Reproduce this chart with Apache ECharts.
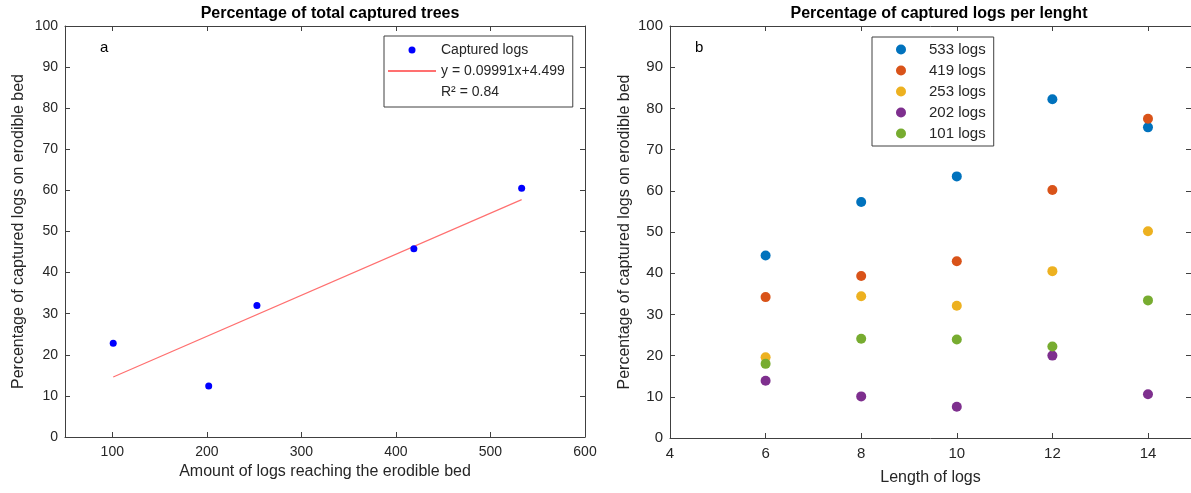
<!DOCTYPE html>
<html lang="en">
<head>
    <meta charset="UTF-8">
    <title>Captured logs</title>
    <script src="https://cdn.jsdelivr.net/npm/echarts@6/dist/echarts.min.js"></script>
    <style>
        body { margin: 0; background: #fff; }
    </style>
</head>
<body>

<div id="main" style="width: 1191px;height:493px;"></div>
<script type="text/javascript">

    // panel a
    var logsReaching = [101, 202, 253, 419, 533];
    var capturedPct = [22.8, 12.4, 32.0, 45.8, 60.5];
    var fitX = [101, 533];
    var fitY = [14.59, 57.75];
    var ticksA = [100, 200, 300, 400, 500, 600];

    // panel b
    var lengths = [6, 8, 10, 12, 14];
    var logs533 = [44.3, 57.3, 63.5, 82.2, 75.4];
    var logs419 = [34.2, 39.3, 42.9, 60.2, 77.5];
    var logs253 = [19.6, 34.4, 32.1, 40.5, 50.2];
    var logs202 = [13.9, 10.1, 7.6, 20.0, 10.6];
    var logs101 = [18.0, 24.1, 23.9, 22.2, 33.4];
    var namesB = ['533 logs', '419 logs', '253 logs', '202 logs', '101 logs'];
    var colorsB = ['#0072BD', '#D95319', '#EDB120', '#7E2F8E', '#77AC30'];
    var ticksB = [4, 6, 8, 10, 12, 14];

    var font = "'Liberation Sans', Arial, sans-serif";
    var txt = '#262626';
    var lineCol = '#404040';

    function pairs(xs, ys) {
        return xs.map(function (x, i) { return [x, ys[i]]; });
    }

    // main axis + mirrored "box" axis with inward ticks
    function xAx(grid, min, max, ticks, name, gap, top, fs) {
        return {
            type: 'value', gridIndex: grid, min: min, max: max,
            position: top ? 'top' : 'bottom',
            name: top ? '' : name, nameLocation: 'middle', nameGap: gap,
            nameTextStyle: {fontFamily: font, fontSize: 16, color: txt},
            axisLine: {show: true, onZero: false, lineStyle: {color: lineCol}},
            axisTick: {show: true, inside: true, length: 5, customValues: ticks, lineStyle: {color: lineCol}},
            axisLabel: {show: !top, customValues: ticks, margin: 8, fontFamily: font, fontSize: fs, color: txt},
            splitLine: {show: false}
        };
    }

    function yAx(grid, name, gap, right, fs) {
        return {
            type: 'value', gridIndex: grid, min: 0, max: 100, interval: 10,
            position: right ? 'right' : 'left',
            name: right ? '' : name, nameLocation: 'middle', nameGap: gap,
            nameTextStyle: {fontFamily: font, fontSize: 16, color: txt},
            axisLine: {show: true, onZero: false, lineStyle: {color: lineCol}},
            axisTick: {show: true, inside: true, length: 5, lineStyle: {color: lineCol}},
            axisLabel: {show: !right, margin: 7, fontFamily: font, fontSize: fs, color: txt},
            splitLine: {show: false}
        };
    }

    var yName = 'Percentage of captured logs on erodible bed';

    var seriesB = [logs533, logs419, logs253, logs202, logs101].map(function (vals, i) {
        return {
            name: namesB[i], type: 'scatter', xAxisIndex: 2, yAxisIndex: 2,
            symbolSize: 10, itemStyle: {color: colorsB[i], opacity: 1},
            data: pairs(lengths, vals)
        };
    });

    var option = {
        animation: false,
        textStyle: {fontFamily: font},
        title: [
            {text: 'Percentage of total captured trees', left: 325, top: 1, textAlign: 'center',
                textStyle: {fontSize: 16, fontWeight: 'bold', color: '#000', fontFamily: font}},
            {text: 'Percentage of captured logs per lenght', left: 934, top: 1, textAlign: 'center',
                textStyle: {fontSize: 16, fontWeight: 'bold', color: '#000', fontFamily: font}}
        ],
        grid: [
            {left: 65, top: 26, width: 520, height: 411},
            {left: 670, top: 26, width: 521, height: 412}
        ],
        legend: [
            {
                data: [
                    'Captured logs',
                    {name: 'y = 0.09991x+4.499', itemStyle: {opacity: 0}},
                    {name: 'R\u00b2 = 0.84', itemStyle: {color: 'rgba(0,0,0,0)'}}
                ],
                orient: 'vertical', left: 384, top: 36, padding: [7, 8, 8, 3],
                itemWidth: 48, itemHeight: 7, itemGap: 7, selectedMode: false,
                borderColor: lineCol, borderWidth: 1, borderRadius: 0, backgroundColor: '#fff',
                textStyle: {fontSize: 14, color: txt, fontFamily: font}
            },
            {
                data: namesB,
                orient: 'vertical', left: 872, top: 37, padding: [5, 8, 5, 24],
                itemWidth: 46, itemHeight: 10, itemGap: 6, selectedMode: false,
                borderColor: lineCol, borderWidth: 1, borderRadius: 0, backgroundColor: '#fff',
                textStyle: {fontSize: 15, color: txt, fontFamily: font}
            }
        ],
        xAxis: [
            xAx(0, 50, 600, ticksA, 'Amount of logs reaching the erodible bed', 26, false, 14),
            xAx(0, 50, 600, ticksA, '', 0, true, 14),
            xAx(1, 4, 14.9, ticksB, 'Length of logs', 32, false, 15),
            xAx(1, 4, 14.9, ticksB, '', 0, true, 15)
        ],
        yAxis: [
            yAx(0, yName, 38, false, 14),
            yAx(0, '', 0, true, 14),
            yAx(1, yName, 37, false, 15),
            yAx(1, '', 0, true, 15)
        ],
        graphic: [
            {type: 'text', left: 100, top: 40, style: {text: 'a', fontSize: 15, fill: '#000', fontFamily: font}},
            {type: 'text', left: 695, top: 40, style: {text: 'b', fontSize: 15, fill: '#000', fontFamily: font}}
        ],
        series: [
            {
                name: 'Captured logs', type: 'scatter', xAxisIndex: 0, yAxisIndex: 0,
                symbolSize: 7, itemStyle: {color: '#0000FF', opacity: 1},
                data: pairs(logsReaching, capturedPct), z: 3
            },
            {
                name: 'y = 0.09991x+4.499', type: 'line', xAxisIndex: 0, yAxisIndex: 0,
                symbol: 'none', lineStyle: {color: '#FF7070', width: 1.2},
                data: pairs(fitX, fitY), z: 2
            },
            {
                name: 'R\u00b2 = 0.84', type: 'scatter', xAxisIndex: 0, yAxisIndex: 0,
                itemStyle: {color: 'rgba(0,0,0,0)'}, data: []
            }
        ].concat(seriesB)
    };

    var myChart = echarts.init(document.getElementById('main'));
    myChart.setOption(option);

</script>

</body>
</html>
